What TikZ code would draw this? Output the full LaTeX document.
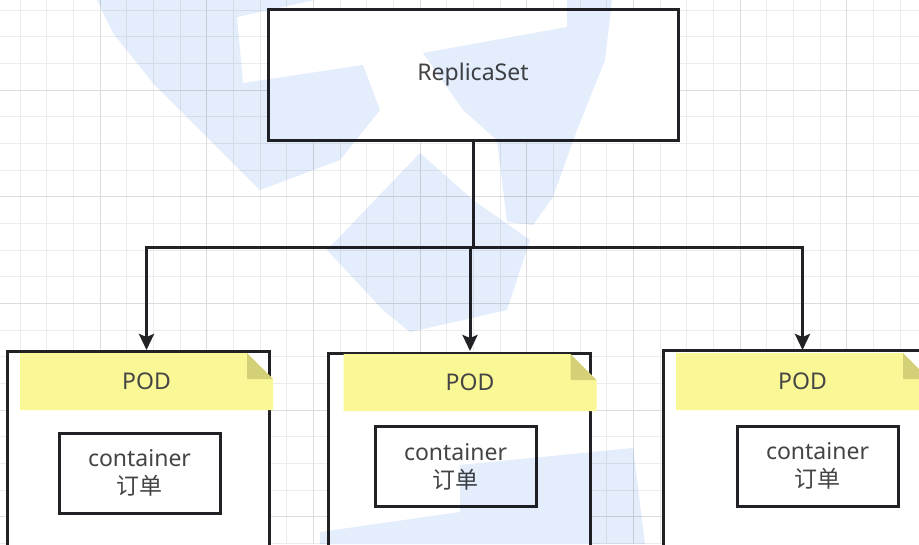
\documentclass[tikz,border=0pt]{standalone}
\usepackage{fontspec}
\setmainfont{Noto Sans}
\newfontfamily\cjk{Noto Sans CJK SC}
\usepackage{tikz}
\usetikzlibrary{arrows.meta}
\definecolor{linecol}{RGB}{34,34,38}
\definecolor{textcol}{RGB}{68,68,68}
\definecolor{gridminor}{RGB}{236,236,236}
\definecolor{gridmajor}{RGB}{220,220,220}
\definecolor{notefill}{RGB}{250,248,150}
\definecolor{foldfill}{RGB}{212,208,120}
\definecolor{markblue}{RGB}{228,237,252}
\tikzstyle{box}=[rectangle,draw=linecol,line width=3pt,fill=white,text=textcol,inner sep=0pt,font=\fontsize{23}{28}\selectfont]
\tikzstyle{podbox}=[box,anchor=north,minimum width=262pt,minimum height=230pt]
\tikzstyle{contbox}=[box,minimum width=161pt,minimum height=80pt,align=center]
\tikzstyle{note}=[rectangle,anchor=north,minimum width=253pt,minimum height=57pt,inner sep=0pt,text=textcol,font=\fontsize{23}{28}\selectfont,
  path picture={
    \fill[notefill] (path picture bounding box.south west) -- (path picture bounding box.north west)
      -- ([xshift=-26pt]path picture bounding box.north east)
      -- ([yshift=-26pt]path picture bounding box.north east)
      -- (path picture bounding box.south east) -- cycle;
    \fill[foldfill] ([xshift=-26pt]path picture bounding box.north east)
      -- ([xshift=-26pt,yshift=-26pt]path picture bounding box.north east)
      -- ([yshift=-26pt]path picture bounding box.north east) -- cycle;
  }]
\tikzstyle{edge}=[draw=linecol,line width=3pt,-{Stealth[length=16pt,width=15pt,inset=3pt]},shorten >=3pt]
\tikzstyle{wmark}=[fill=markblue,blend mode=multiply]

\begin{document}
\begin{tikzpicture}[x=1pt,y=-1pt]

    \clip (0,0) rectangle (919,544);
    \fill[white] (0,0) rectangle (919,544);

    % grid
    \foreach \x in {20,46.667,...,919}
        \draw[gridminor,line width=1pt] (\x,0) -- (\x,544);
    \foreach \y in {10,36.667,...,544}
        \draw[gridminor,line width=1pt] (0,\y) -- (919,\y);
    \foreach \x in {100,206.667,...,919}
        \draw[gridmajor,line width=1pt] (\x,0) -- (\x,544);
    \foreach \y in {90,196.667,...,544}
        \draw[gridmajor,line width=1pt] (0,\y) -- (919,\y);

    \node[box,minimum width=410pt,minimum height=131pt] (rs) at (473,74.5) {ReplicaSet};

    \foreach \name/\px/\py/\nx/\ny/\cx/\cy in {1/138/350/146.5/353/139.5/473, 2/459.5/352/470/354/455.5/466.5, 3/794/349/802.5/353/817.5/466}
    {
        \node[podbox] (pod\name) at (\px,\py) {};
        \node[note] (note\name) at (\nx,\ny) {POD};
        \node[contbox] (cont\name) at (\cx,\cy) {container\\{\cjk 订单}};
    }

    \coordinate (split) at (473,247);
    \draw[draw=linecol,line width=3pt] (rs.south) -- (split);
    \foreach \name in {1,2,3}
        \path[edge] (split) -| (note\name.north);

    % watermark
    \fill[wmark] (97,0) -- (315,0) -- (237,17) -- (243,83) -- (363,65) -- (380,110) -- (340,160)
        -- (260,190) -- (213,143) -- (153,83) -- (113,33) -- cycle;
    \fill[wmark] (423,53) -- (567,27) -- (567,0) -- (612,0) -- (605,60) -- (577,130) -- (553,197)
        -- (533,225) -- (507,222) -- (497,140) -- (463,110) -- cycle;
    \fill[wmark] (420,153) -- (473,200) -- (530,240) -- (507,310) -- (410,332) -- (383,310) -- (327,250) -- cycle;
    \fill[wmark] (320,532) -- (460,512) -- (460,465) -- (633,448) -- (645,544) -- (320,544) -- cycle;

\end{tikzpicture}
\end{document}
